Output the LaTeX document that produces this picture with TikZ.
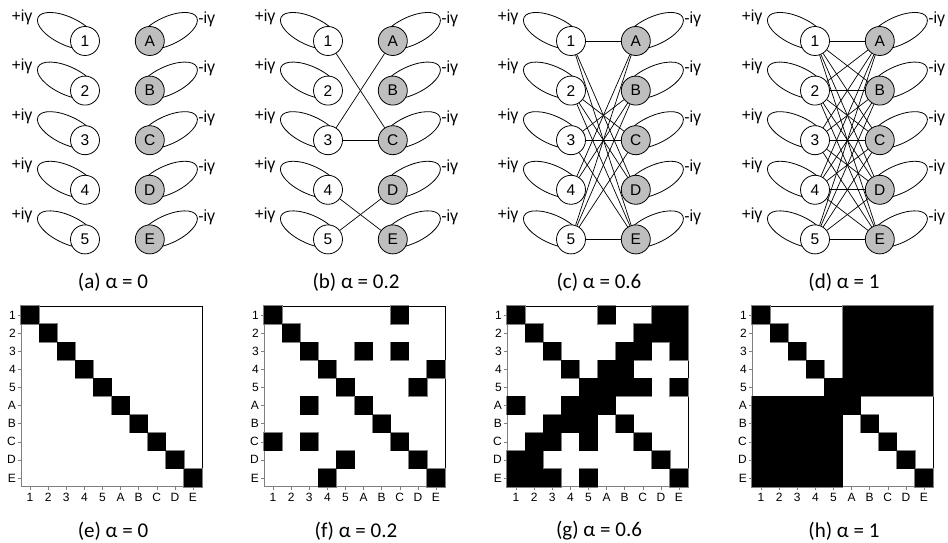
\documentclass[tikz,border=0pt]{standalone}
\usepackage{fontspec}
\setmainfont{Liberation Sans}
\newfontfamily\capfont{Carlito}
\usepackage{tikz}
\usetikzlibrary{positioning,backgrounds}
\definecolor{rgtcol}{HTML}{BEBEBE}
\definecolor{cellcol}{HTML}{808080}

% position of a node label in the matrix rows/columns
\expandafter\def\csname mpos1\endcsname{1}
\expandafter\def\csname mpos2\endcsname{2}
\expandafter\def\csname mpos3\endcsname{3}
\expandafter\def\csname mpos4\endcsname{4}
\expandafter\def\csname mpos5\endcsname{5}
\expandafter\def\csname mposA\endcsname{6}
\expandafter\def\csname mposB\endcsname{7}
\expandafter\def\csname mposC\endcsname{8}
\expandafter\def\csname mposD\endcsname{9}
\expandafter\def\csname mposE\endcsname{10}
\newcommand{\mpos}[1]{\csname mpos#1\endcsname}

% couplings for alpha = 0.2, 0.6, 1
\newcommand{\edgesb}{1/C,3/A,3/C,4/E,5/D}
\newcommand{\edgesc}{1/A,1/D,1/E,2/C,2/D,2/E,3/B,3/C,3/E,4/A,4/B,5/A,5/B,5/C,5/E}
\newcommand{\edgesd}{1/A,1/B,1/C,1/D,1/E,2/A,2/B,2/C,2/D,2/E,3/A,3/B,3/C,3/D,3/E,
                     4/A,4/B,4/C,4/D,4/E,5/A,5/B,5/C,5/D,5/E}

% one matrix cell: style, left x, row, column
\newcommand{\mcell}[4]{\path[#1] ({#2+(#4-1)*18.1},{56+(10-#3)*18.1}) rectangle ++(18.1,18.1);}

\begin{document}
\begin{tikzpicture}[x=1pt,y=1pt,
   lnode/.style={circle,draw,line width=0.8pt,fill=white,minimum size=29pt,
                 inner sep=0pt,font=\fontsize{15.5}{15.5}\selectfont},
   rnode/.style={lnode,fill=rgtcol},
   gam/.style={inner sep=0pt,font=\fontsize{16}{16}\selectfont},
   selfloop/.style={line width=0.8pt},
   edge/.style={line width=0.7pt},
   subcap/.style={inner sep=0pt,font=\capfont\fontsize{21}{21}\selectfont},
   tick/.style={inner sep=0pt,font=\fontsize{12}{12}\selectfont},
   cellgrey/.style={fill=black,draw=cellcol,line width=1.2pt},
   cellblack/.style={fill=black},
]
\useasboundingbox (0,0) rectangle (948,543);

% ----- top row: the two groups of oscillators
\foreach \p/\px in {a/85,b/328,c/571,d/815}{
  \foreach \i in {1,...,5}{
    \node[lnode] (\p\i) at (\px,{551.6-49.6*\i}) {\i};
    \node[gam] (\p\i-g) at ([shift={(-63,24)}]\p\i) {+iγ};
  }
  \foreach \X [count=\i] in {A,B,C,D,E}{
    \node[rnode,right=35pt of \p\i] (\p\X) {\X};
    \node[gam] (\p\X-g) at ([shift={(57,22)}]\p\X) {-iγ};
  }
}
\begin{scope}[on background layer]
\foreach \p in {a,b,c,d}{
  \foreach \i in {1,...,5}
    \draw[selfloop,shift={(\p\i)},xshift=-18,yshift=10,rotate=-25] (0,0) ellipse (32pt and 14pt);
  \foreach \X in {A,B,C,D,E}
    \draw[selfloop,shift={(\p\X)},xshift=18,yshift=10,rotate=25] (0,0) ellipse (32pt and 14pt);
}
\end{scope}

% couplings
\foreach \i/\X in \edgesb \draw[edge] (b\i) -- (b\X);
\foreach \i/\X in \edgesc \draw[edge] (c\i) -- (c\X);
\foreach \i/\X in \edgesd \draw[edge] (d\i) -- (d\X);

\node[subcap] (capa) at (113,260.5) {(a) α = 0};
\node[subcap] (capb) at (356,260.5) {(b) α = 0.2};
\node[subcap] (capc) at (599,260.5) {(c) α = 0.6};
\node[subcap] (capd) at (844,260.5) {(d) α = 1};

% ----- bottom row: coupling matrices
\foreach \m/\L in {e/21,f/264,g/507,h/752}{
  \draw[cellcol,line width=1pt] (\L,237) -- (\L,56) -- (\L+181,56);
  \draw[line width=0.8pt] (\L,237) -- (\L+181,237) -- (\L+181,56);
  \foreach \t [count=\k] in {1,2,3,4,5,A,B,C,D,E}{
    \draw[cellcol] (\L-3,{56+(10.5-\k)*18.1}) -- ++(3,0);
    \node[tick,anchor=east] (\m-r\k) at (\L-5,{56+(10.5-\k)*18.1}) {\t};
    \draw[cellcol] ({\L+(\k-0.5)*18.1},56) -- ++(0,-3);
    \node[tick,anchor=north] (\m-c\k) at ({\L+(\k-0.5)*18.1},50) {\t};
  }
}
\foreach \s in {cellgrey,cellblack}{
  \foreach \L in {21,264,507,752}
    \foreach \k in {1,...,10} \mcell{\s}{\L}{\k}{\k};
  \foreach \i/\X in \edgesb {\mcell{\s}{264}{\i}{\mpos{\X}} \mcell{\s}{264}{\mpos{\X}}{\i}}
  \foreach \i/\X in \edgesc {\mcell{\s}{507}{\i}{\mpos{\X}} \mcell{\s}{507}{\mpos{\X}}{\i}}
  \foreach \i/\X in \edgesd {\mcell{\s}{752}{\i}{\mpos{\X}} \mcell{\s}{752}{\mpos{\X}}{\i}}
}

\node[subcap] (cape) at (113,12) {(e) α = 0};
\node[subcap] (capf) at (356,12) {(f) α = 0.2};
\node[subcap] (capg) at (599,12) {(g) α = 0.6};
\node[subcap] (caph) at (844,12) {(h) α = 1};
\end{tikzpicture}
\end{document}
